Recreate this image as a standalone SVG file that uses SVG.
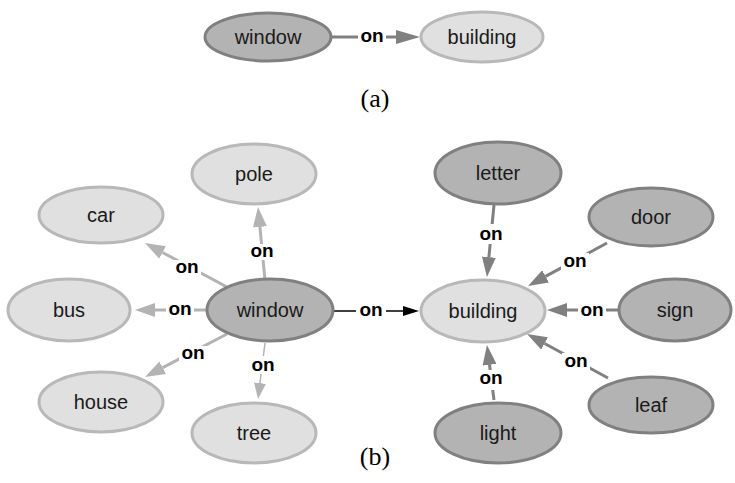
<svg xmlns="http://www.w3.org/2000/svg" width="735" height="483" viewBox="0 0 735 483">
  <style>
    .light { fill: #e0e0e0; stroke: #b8b8b8; stroke-width: 3; }
    .dark { fill: #b3b3b3; stroke: #808080; stroke-width: 3; }
    .name { font-family: "Liberation Sans", Arial, sans-serif; font-size: 20px; fill: #1a1a1a; text-anchor: middle; }
    .rel { font-family: "Liberation Sans", Arial, sans-serif; font-size: 19px; font-weight: bold; fill: #000; text-anchor: middle; }
    .cap { font-family: "Liberation Serif", "Times New Roman", serif; font-size: 26px; fill: #000; text-anchor: middle; }
    .e-light { stroke: #b3b3b3; stroke-width: 3; fill: none; }
    .e-thin { stroke: #b3b3b3; stroke-width: 1.5; fill: none; }
    .e-dark { stroke: #808080; stroke-width: 3; fill: none; }
    .e-black { stroke: #000; stroke-width: 1.5; fill: none; }
    .gap { fill: #fff; }
  </style>
  <defs>
    <marker id="headLight" viewBox="0 -7 20 14" refX="0" refY="0" markerWidth="20" markerHeight="14" markerUnits="userSpaceOnUse" orient="auto">
      <path d="M0,-7 L20,0 L0,7 z" fill="#b3b3b3"/>
    </marker>
    <marker id="headThin" viewBox="0 -6 16 12" refX="0" refY="0" markerWidth="16" markerHeight="12" markerUnits="userSpaceOnUse" orient="auto">
      <path d="M0,-6 L16,0 L0,6 z" fill="#b3b3b3"/>
    </marker>
    <marker id="headDark" viewBox="0 -7 20 14" refX="0" refY="0" markerWidth="20" markerHeight="14" markerUnits="userSpaceOnUse" orient="auto">
      <path d="M0,-7 L20,0 L0,7 z" fill="#808080"/>
    </marker>
    <marker id="headTop" viewBox="0 -7 24 14" refX="0" refY="0" markerWidth="24" markerHeight="14" markerUnits="userSpaceOnUse" orient="auto">
      <path d="M0,-7 L24,0 L0,7 z" fill="#808080"/>
    </marker>
    <marker id="headBlack" viewBox="0 -5 16 10" refX="0" refY="0" markerWidth="16" markerHeight="10" markerUnits="userSpaceOnUse" orient="auto">
      <path d="M0,-5 L16,0 L0,5 z" fill="#000"/>
    </marker>
  </defs>

  <!-- connectors -->
  <g id="connectors">
    <!-- (a) -->
    <line class="e-dark" x1="332" y1="37" x2="396" y2="37" marker-end="url(#headTop)"/>
    <rect class="gap" x="358" y="28" width="28" height="18"/>
    <text class="rel" x="372" y="42">on</text>

    <!-- (b) window outgoing -->
    <line class="e-light" x1="265" y1="280" x2="259.9" y2="226.9" marker-end="url(#headLight)"/>
    <rect class="gap" x="249" y="244" width="26" height="16"/>
    <text class="rel" x="262" y="257">on</text>

    <line class="e-light" x1="227" y1="287" x2="162.6" y2="252.5" marker-end="url(#headLight)"/>
    <rect class="gap" x="173" y="260" width="28" height="16"/>
    <text class="rel" x="187" y="273">on</text>

    <line class="e-light" x1="207" y1="310" x2="155" y2="310" marker-end="url(#headLight)"/>
    <rect class="gap" x="166" y="302" width="28" height="16"/>
    <text class="rel" x="180" y="315">on</text>

    <line class="e-light" x1="227" y1="334" x2="162.7" y2="367.7" marker-end="url(#headLight)"/>
    <rect class="gap" x="179" y="346" width="28" height="16"/>
    <text class="rel" x="193" y="359">on</text>

    <line class="e-thin" x1="265" y1="343" x2="260" y2="383.1" marker-end="url(#headThin)"/>
    <rect class="gap" x="249" y="356" width="28" height="18"/>
    <text class="rel" x="263" y="371">on</text>

    <line class="e-black" x1="333" y1="311" x2="403" y2="311" marker-end="url(#headBlack)"/>
    <rect class="gap" x="356" y="302" width="30" height="18"/>
    <text class="rel" x="371" y="316">on</text>

    <!-- (b) building incoming -->
    <line class="e-dark" x1="494" y1="205" x2="488.9" y2="257.1" marker-end="url(#headDark)"/>
    <rect class="gap" x="477" y="224" width="28" height="20"/>
    <text class="rel" x="491" y="240">on</text>

    <line class="e-dark" x1="607" y1="243" x2="545.6" y2="276.4" marker-end="url(#headDark)"/>
    <rect class="gap" x="561" y="253" width="28" height="18"/>
    <text class="rel" x="575" y="267">on</text>

    <line class="e-dark" x1="619" y1="310" x2="567" y2="310" marker-end="url(#headDark)"/>
    <rect class="gap" x="578" y="302" width="28" height="17"/>
    <text class="rel" x="592" y="316">on</text>

    <line class="e-dark" x1="608" y1="378" x2="544.6" y2="343.5" marker-end="url(#headDark)"/>
    <rect class="gap" x="562" y="353" width="28" height="18"/>
    <text class="rel" x="576" y="367">on</text>

    <line class="e-dark" x1="494" y1="400" x2="489.5" y2="364.8" marker-end="url(#headDark)"/>
    <rect class="gap" x="477" y="370" width="28" height="20"/>
    <text class="rel" x="491" y="384">on</text>
  </g>

  <!-- (a) nodes -->
  <g id="a-window">
    <ellipse class="dark" cx="268" cy="37" rx="63" ry="24"/>
    <text class="name" x="268" y="44">window</text>
  </g>
  <g id="a-building">
    <ellipse class="light" cx="482" cy="37" rx="61" ry="25"/>
    <text class="name" x="482" y="44">building</text>
  </g>
  <text class="cap" x="375" y="107">(a)</text>

  <!-- (b) nodes -->
  <g id="b-window">
    <ellipse class="dark" cx="270" cy="310" rx="63" ry="31"/>
    <text class="name" x="270" y="317">window</text>
  </g>
  <g id="b-pole">
    <ellipse class="light" cx="254" cy="174" rx="62" ry="30"/>
    <text class="name" x="254" y="181">pole</text>
  </g>
  <g id="b-car">
    <ellipse class="light" cx="101" cy="215" rx="62" ry="28"/>
    <text class="name" x="101" y="222">car</text>
  </g>
  <g id="b-bus">
    <ellipse class="light" cx="69" cy="310" rx="61" ry="31"/>
    <text class="name" x="69" y="317">bus</text>
  </g>
  <g id="b-house">
    <ellipse class="light" cx="101" cy="402" rx="62" ry="30"/>
    <text class="name" x="101" y="409">house</text>
  </g>
  <g id="b-tree">
    <ellipse class="light" cx="254" cy="433" rx="62" ry="30"/>
    <text class="name" x="254" y="440">tree</text>
  </g>
  <g id="b-building">
    <ellipse class="light" cx="483" cy="311" rx="62" ry="31"/>
    <text class="name" x="483" y="318">building</text>
  </g>
  <g id="b-letter">
    <ellipse class="dark" cx="498" cy="173" rx="63" ry="31"/>
    <text class="name" x="498" y="180">letter</text>
  </g>
  <g id="b-door">
    <ellipse class="dark" cx="651" cy="217" rx="62" ry="29"/>
    <text class="name" x="651" y="224">door</text>
  </g>
  <g id="b-sign">
    <ellipse class="dark" cx="675" cy="310" rx="56" ry="31"/>
    <text class="name" x="675" y="317">sign</text>
  </g>
  <g id="b-leaf">
    <ellipse class="dark" cx="651" cy="405" rx="62" ry="28"/>
    <text class="name" x="651" y="412">leaf</text>
  </g>
  <g id="b-light">
    <ellipse class="dark" cx="498" cy="433" rx="63" ry="30"/>
    <text class="name" x="498" y="440">light</text>
  </g>
  <text class="cap" x="375" y="465">(b)</text>
</svg>
